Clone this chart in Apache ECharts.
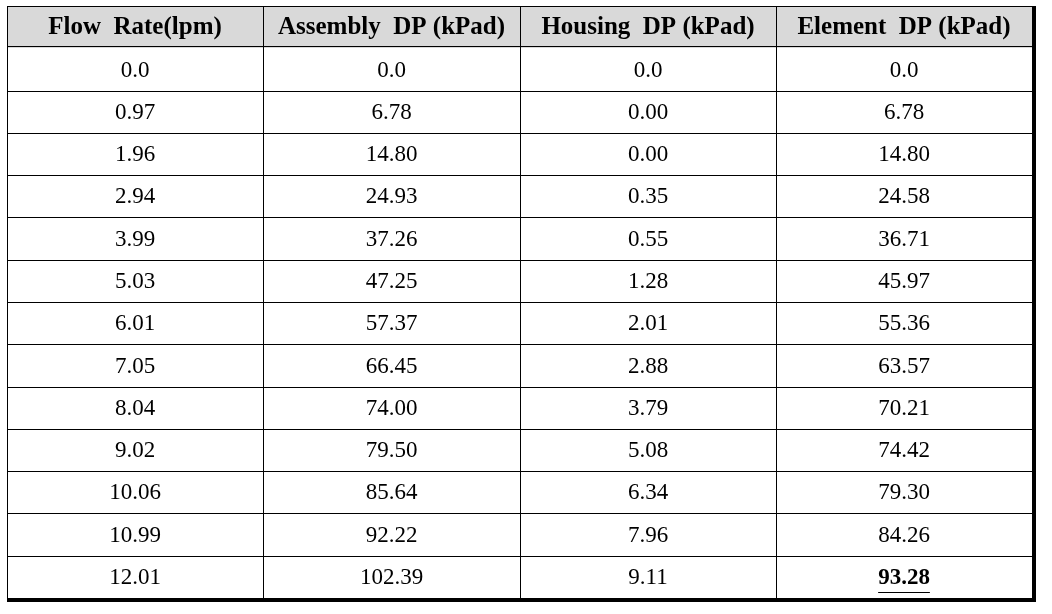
<!DOCTYPE html>
<html>
<head>
<meta charset="utf-8">
<script src="https://cdn.jsdelivr.net/npm/echarts@6/dist/echarts.min.js"></script>
<style>
html,body{margin:0;padding:0;background:#fff;}
#chart{width:1052px;height:614px;}
</style>
</head>
<body>
<div id="chart"></div>
<script>
const headers = ['Flow  Rate(lpm)', 'Assembly  DP (kPad)', 'Housing  DP (kPad)', 'Element  DP (kPad)'];
const flowRate = ['0.0','0.97','1.96','2.94','3.99','5.03','6.01','7.05','8.04','9.02','10.06','10.99','12.01'];
const assemblyDP = ['0.0','6.78','14.80','24.93','37.26','47.25','57.37','66.45','74.00','79.50','85.64','92.22','102.39'];
const housingDP = ['0.0','0.00','0.00','0.35','0.55','1.28','2.01','2.88','3.79','5.08','6.34','7.96','9.11'];
const elementDP = ['0.0','6.78','14.80','24.58','36.71','45.97','55.36','63.57','70.21','74.42','79.30','84.26','93.28'];

const columns = [flowRate, assemblyDP, housingDP, elementDP];
const nRows = flowRate.length + 1;
const nCols = headers.length;
const rowCats = [];
for (let r = 0; r < nRows; r++) rowCats.push('r' + r);

const cells = [];
for (let r = 0; r < nRows; r++) {
  for (let c = 0; c < nCols; c++) {
    const txt = r === 0 ? headers[c] : columns[c][r - 1];
    cells.push([c, r, txt]);
  }
}

const FONT = '"Liberation Serif", "DejaVu Serif", serif';
const measureCtx = document.createElement('canvas').getContext('2d');
function textWidth(t, f) { measureCtx.font = f; return measureCtx.measureText(t).width; }

function renderItem(params, api) {
  const c = api.value(0), r = api.value(1);
  const txt = cells[params.dataIndex][2];
  const center = api.coord([c, r]);
  const size = api.size([1, 1]);
  const w = size[0], h = size[1];
  const x0 = Math.round(center[0] - w / 2), y0 = Math.round(center[1] - h / 2);
  const x1 = Math.round(center[0] + w / 2), y1 = Math.round(center[1] + h / 2);
  const isHeader = r === 0;
  const isLastRow = r === nRows - 1;
  const isLastCol = c === nCols - 1;
  const special = isLastRow && isLastCol;
  const children = [];
  children.push({
    type: 'rect',
    shape: { x: x0, y: y0, width: x1 - x0, height: y1 - y0 },
    style: { fill: isHeader ? '#d9d9d9' : '#ffffff' }
  });
  const ls = { stroke: '#000', lineWidth: 1 };
  children.push({ type: 'line', shape: { x1: x0 + 0.5, y1: y0, x2: x0 + 0.5, y2: y1 }, style: ls });
  if (r !== 1) children.push({ type: 'line', shape: { x1: x0, y1: y0 + 0.5, x2: x1, y2: y0 + 0.5 }, style: ls });
  const fontSize = isHeader ? 25 : 23;
  const fontWeight = (isHeader || special) ? 'bold' : 'normal';
  const cy = (y0 + y1) / 2 + 1;
  children.push({
    type: 'text',
    x: (x0 + x1) / 2, y: cy,
    style: {
      text: txt, fontFamily: FONT, fontSize: fontSize, fontWeight: fontWeight,
      fill: '#000', align: 'center', verticalAlign: 'middle'
    }
  });
  if (special) {
    const tw = textWidth(txt, 'bold ' + fontSize + 'px ' + FONT);
    const cx = (x0 + x1) / 2;
    children.push({ type: 'line', shape: { x1: cx - tw / 2, y1: cy + 14.5, x2: cx + tw / 2, y2: cy + 14.5 }, style: ls });
  }
  if (isHeader) {
    children.push({ type: 'line', shape: { x1: x0, y1: y1 - 1.5, x2: x1, y2: y1 - 1.5 }, style: ls });
    children.push({ type: 'line', shape: { x1: x0, y1: y1 + 1.5, x2: x1, y2: y1 + 1.5 }, style: ls });
  }
  if (isLastCol) {
    children.push({ type: 'line', shape: { x1: x1 + 2, y1: y0, x2: x1 + 2, y2: y1 + (isLastRow ? 4 : 0) }, style: { stroke: '#000', lineWidth: 4 } });
  }
  if (isLastRow) {
    children.push({ type: 'line', shape: { x1: x0, y1: y1 + 2, x2: x1 + (isLastCol ? 4 : 0), y2: y1 + 2 }, style: { stroke: '#000', lineWidth: 4 } });
  }
  return { type: 'group', children: children };
}

const chart = echarts.init(document.getElementById('chart'), null, { renderer: 'canvas' });
chart.setOption({
  animation: false,
  backgroundColor: '#ffffff',
  grid: { left: 7, top: 6, width: 1025, height: 592, containLabel: false },
  xAxis: {
    type: 'category', data: headers, position: 'top',
    axisLine: { show: false }, axisTick: { show: false }, axisLabel: { show: false }, splitLine: { show: false }
  },
  yAxis: {
    type: 'category', data: rowCats, inverse: true,
    axisLine: { show: false }, axisTick: { show: false }, axisLabel: { show: false }, splitLine: { show: false }
  },
  series: [{
    type: 'custom',
    renderItem: renderItem,
    data: cells.map(d => [d[0], d[1]]),
    encode: { x: 0, y: 1 },
    clip: false
  }]
});
</script>
</body>
</html>
